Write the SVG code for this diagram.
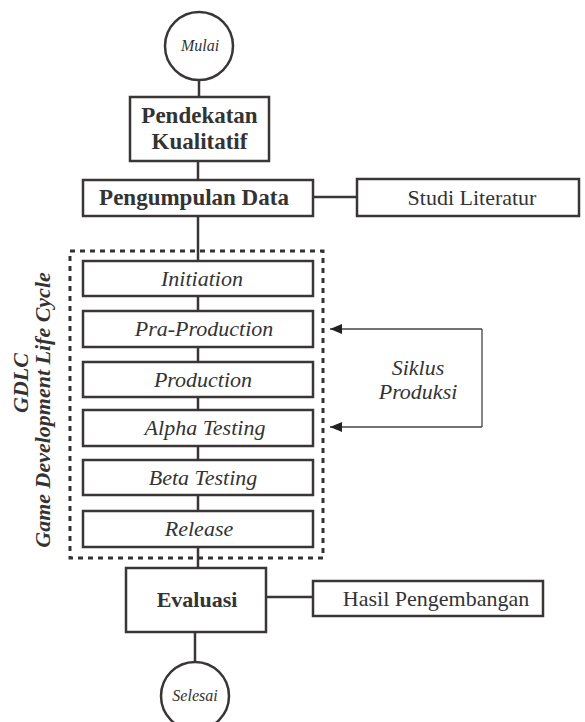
<svg xmlns="http://www.w3.org/2000/svg" width="585" height="722" viewBox="0 0 585 722">
<defs>
<style>
.b{fill:#fff;stroke:#3a3636;stroke-width:2.5}
.c{fill:none;stroke:#3a3636;stroke-width:2.5}
.t{font-family:"Liberation Serif",serif;fill:#333;text-anchor:middle}
.i{font-style:italic}
.bo{font-weight:bold}
</style>
<marker id="ah" markerWidth="12" markerHeight="10" refX="12" refY="5" orient="auto" markerUnits="userSpaceOnUse">
<path d="M0,0 L12,5 L0,10 Z" fill="#222"/>
</marker>
</defs>
<rect width="585" height="722" fill="#fff"/>
<g id="connectors">
<line class="c" x1="199" y1="80" x2="199" y2="97"/>
<line class="c" x1="198" y1="161" x2="198" y2="180"/>
<line class="c" x1="313" y1="197" x2="357" y2="197"/>
<line class="c" x1="198" y1="216" x2="198" y2="261"/>
<line class="c" x1="198" y1="296" x2="198" y2="311"/>
<line class="c" x1="198" y1="347" x2="198" y2="362"/>
<line class="c" x1="198" y1="397" x2="198" y2="410"/>
<line class="c" x1="198" y1="446" x2="198" y2="460"/>
<line class="c" x1="198" y1="495" x2="198" y2="511"/>
<line class="c" x1="198" y1="547" x2="198" y2="568"/>
<line class="c" x1="266" y1="597" x2="313" y2="597"/>
<line class="c" x1="195" y1="632" x2="195" y2="662"/>
<polyline fill="none" stroke="#444" stroke-width="1.3" points="482,329 482,427"/>
<line stroke="#444" stroke-width="1.3" x1="482" y1="329" x2="330" y2="329" marker-end="url(#ah)"/>
<line stroke="#444" stroke-width="1.3" x1="482" y1="427" x2="330" y2="427" marker-end="url(#ah)"/>
</g>
<g id="gdlc-group">
<rect x="70" y="251" width="253" height="307" fill="none" stroke="#333" stroke-width="3" stroke-dasharray="5 5"/>
<text class="t i bo" font-size="22" transform="translate(28,383) rotate(-90)">GDLC</text>
<text class="t i bo" font-size="22" transform="translate(50,410) rotate(-90)">Game Development Life Cycle</text>
</g>
<g id="mulai"><circle class="b" cx="199" cy="46" r="34"/><text class="t i" x="200" y="51" font-size="16">Mulai</text></g>
<g id="pendekatan"><rect class="b" x="130" y="97" width="139" height="64"/><text class="t bo" x="199.5" y="123" font-size="23">Pendekatan</text><text class="t bo" x="199.5" y="149" font-size="23">Kualitatif</text></g>
<g id="pengumpulan"><rect class="b" x="83" y="180" width="230" height="36"/><text class="t bo" x="194" y="205" font-size="23">Pengumpulan Data</text></g>
<g id="studi"><rect class="b" x="357" y="179" width="222" height="37"/><text class="t" x="472" y="205" font-size="22">Studi Literatur</text></g>
<g id="initiation"><rect class="b" x="83" y="261" width="230" height="35"/><text class="t i" x="202" y="286" font-size="22">Initiation</text></g>
<g id="praproduction"><rect class="b" x="83" y="311" width="230" height="36"/><text class="t i" x="204" y="336" font-size="22">Pra-Production</text></g>
<g id="production"><rect class="b" x="83" y="362" width="230" height="35"/><text class="t i" x="203" y="387" font-size="22">Production</text></g>
<g id="alpha"><rect class="b" x="83" y="410" width="230" height="36"/><text class="t i" x="205" y="435" font-size="22">Alpha Testing</text></g>
<g id="beta"><rect class="b" x="83" y="460" width="230" height="35"/><text class="t i" x="203" y="485" font-size="22">Beta Testing</text></g>
<g id="release"><rect class="b" x="83" y="511" width="230" height="36"/><text class="t i" x="199" y="536" font-size="22">Release</text></g>
<g id="siklus"><text class="t i" x="418" y="375" font-size="22">Siklus</text><text class="t i" x="418" y="399" font-size="22">Produksi</text></g>
<g id="evaluasi"><rect class="b" x="126" y="568" width="140" height="64"/><text class="t bo" x="197" y="607" font-size="22">Evaluasi</text></g>
<g id="hasil"><rect class="b" x="313" y="581" width="230" height="35"/><text class="t" x="436" y="606" font-size="22">Hasil Pengembangan</text></g>
<g id="selesai"><circle class="b" cx="195" cy="696" r="34"/><text class="t i" x="195" y="701" font-size="16">Selesai</text></g>
</svg>
